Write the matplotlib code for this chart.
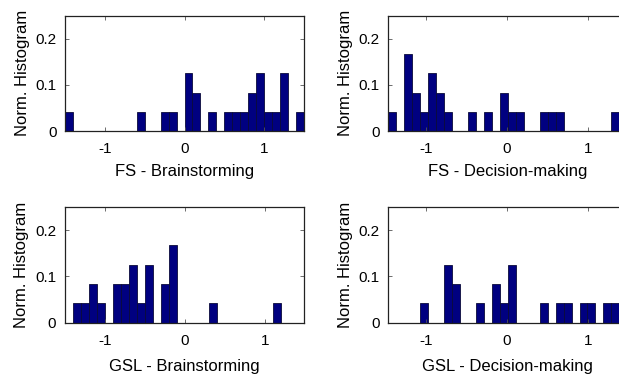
import matplotlib
matplotlib.use("Agg")
import matplotlib.pyplot as plt
import numpy as np

plt.rcParams['font.family'] = ['Liberation Sans', 'DejaVu Sans']

# Normalized histogram heights per bin
fs_brain = [0.042, 0, 0, 0, 0, 0, 0, 0, 0, 0.042, 0, 0, 0.042, 0.042, 0,
            0.125, 0.083, 0, 0.042, 0, 0.042, 0.042, 0.042, 0.083, 0.125,
            0.042, 0.042, 0.125, 0, 0.042]
fs_dec = [0.042, 0, 0.167, 0.083, 0.042, 0.125, 0.083, 0.042, 0, 0, 0.042, 0,
          0.042, 0, 0.083, 0.042, 0.042, 0, 0, 0.042, 0.042, 0.042, 0, 0, 0,
          0, 0, 0, 0.042, 0]
gsl_brain = [0, 0.042, 0.042, 0.083, 0.042, 0, 0.083, 0.083, 0.125, 0.042,
             0.125, 0, 0.083, 0.167, 0, 0, 0, 0, 0.042, 0, 0, 0, 0, 0, 0, 0,
             0.042, 0, 0, 0]
gsl_dec = [0, 0, 0, 0, 0.042, 0, 0, 0.125, 0.083, 0, 0, 0.042, 0, 0.083,
           0.042, 0.125, 0, 0, 0, 0.042, 0, 0.042, 0.042, 0, 0.042, 0.042, 0,
           0.042, 0.042, 0]

bin_start = [-1.5, -1.46, -1.5, -1.46]
bin_width = [0.1, 0.098, 0.1, 0.098]
xlims = [(-1.5, 1.5), (-1.46, 1.48), (-1.5, 1.48), (-1.46, 1.48)]
labels = ["FS - Brainstorming", "FS - Decision-making",
          "GSL - Brainstorming", "GSL - Decision-making"]
series = [fs_brain, fs_dec, gsl_brain, gsl_dec]
xticks = [-1, 0, 1]
yticks = [0, 0.1, 0.2]
ytick_labels = ["0", "0.1", "0.2"]

W, H = 619, 374
fig = plt.figure(figsize=(W / 100, H / 100), dpi=100)

# axes rectangles in pixels: left, top, right, bottom
rects = [(65, 15.7, 304, 131), (388.3, 15.7, 627.3, 131),
         (64.5, 207, 304, 322.7), (388.3, 207, 627.3, 322.5)]
label_pads = [6, 6, 8, 8]

for i, (l, t, r, b) in enumerate(rects):
    ax = fig.add_axes([l / W, 1 - b / H, (r - l) / W, (b - t) / H])
    h = np.array(series[i])
    edges = bin_start[i] + bin_width[i] * np.arange(len(h))
    m = h > 0
    ax.bar(edges[m], h[m], width=bin_width[i], align='edge',
           color='#000080', edgecolor='#0a0a3a', linewidth=0.6)
    ax.set_xlim(*xlims[i])
    ax.set_ylim(0, 0.25)
    ax.set_xticks(xticks)
    ax.set_xticklabels(["-1", "0", "1"])
    ax.set_yticks(yticks)
    ax.set_yticklabels(ytick_labels)
    ax.tick_params(direction='in', length=3, width=0.6, top=True, right=True,
                   labelsize=11, pad=6, color='#555555')
    ax.tick_params(axis='x', pad=8)
    for s in ax.spines.values():
        s.set_color('#222222')
        s.set_linewidth(0.9)
    ax.set_xlabel(labels[i], fontsize=12, labelpad=label_pads[i])
    ax.set_ylabel("Norm. Histogram", fontsize=12, labelpad=4)

fig.savefig("out.png", dpi=100)
